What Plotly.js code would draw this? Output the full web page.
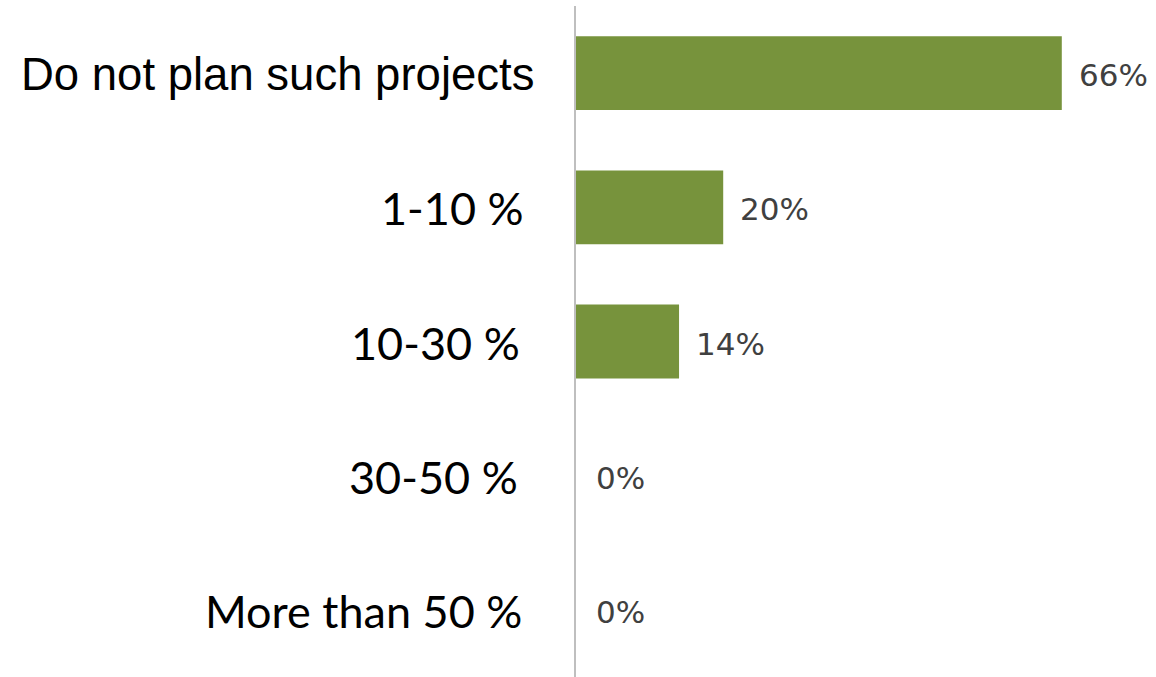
<!DOCTYPE html>
<html>
<head>
<meta charset="utf-8">
<script src="https://cdn.plot.ly/plotly-3.0.1.min.js"></script>
<style>html,body{margin:0;padding:0;background:#fff;}#chart{width:1156px;height:677px;}</style>
</head>
<body>
<div id="chart"></div>
<script>
var categories = ["Do not plan such projects", "1-10 %", "10-30 %", "30-50 %", "More than 50 %"];
var values = [66, 20, 14, 0, 0];
var valueLabels = ["66%", "20%", "14%", "0%", "0%"];

var trace = {
  type: "bar",
  orientation: "h",
  y: categories,
  x: values,
  marker: {color: "#77933c"},
  width: 0.55,
  hoverinfo: "none"
};

var labelShift = [-40, -50, -54, -56, -52];
var annotations = [];
categories.forEach(function (c, i) {
  annotations.push({
    xref: "x", yref: "y", x: values[i], y: c,
    text: valueLabels[i], showarrow: false,
    xanchor: "left", yanchor: "middle", xshift: values[i] === 0 ? 18 : 15, yshift: -2,
    font: {family: "DejaVu Sans", size: 31, color: "#404040"}
  });
  annotations.push({
    xref: "paper", yref: "y", x: 0, y: c,
    text: c, showarrow: false,
    xanchor: "right", yanchor: "middle",
    xshift: labelShift[i], yshift: -1,
    font: i === 0 ? {family: "Liberation Sans", size: 45.5, color: "#000"}
                  : {family: "Lato", size: 45, color: "#000"}
  });
});

var layout = {
  width: 1156, height: 677,
  margin: {l: 576, r: 0, t: 6, b: 0},
  paper_bgcolor: "#fff", plot_bgcolor: "#fff",
  showlegend: false,
  xaxis: {range: [0, 78.8], showgrid: false, zeroline: false, showticklabels: false, showline: false, fixedrange: true},
  yaxis: {autorange: "reversed", type: "category", showgrid: false, zeroline: false, showticklabels: false,
          showline: true, linecolor: "#bfbfbf", linewidth: 2, ticks: "", fixedrange: true},
  annotations: annotations
};

Plotly.newPlot("chart", [trace], layout, {displayModeBar: false, staticPlot: true});
</script>
</body>
</html>
